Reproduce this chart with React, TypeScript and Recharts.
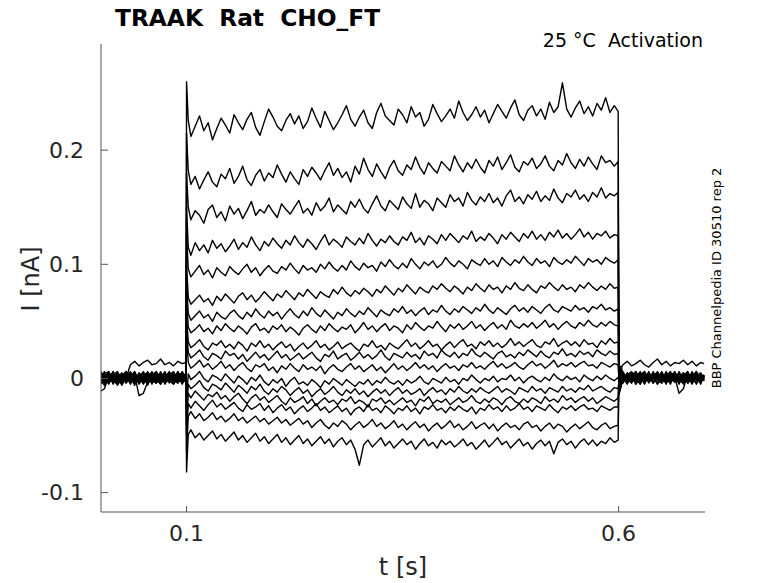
import { LineChart, Line, XAxis, YAxis } from "recharts";

// time grid (s)
const preTimes = [
  0.001, 0.005, 0.01, 0.015, 0.02, 0.025, 0.03, 0.035, 0.04, 0.045, 0.05, 0.055, 0.06, 0.065, 0.07,
  0.075, 0.08, 0.085, 0.09, 0.095, 0.0995,
];
const onsetTime = 0.1;
const stepTimes = [
  0.102, 0.105, 0.11, 0.115, 0.12, 0.125, 0.13, 0.135, 0.14, 0.145, 0.15, 0.155, 0.16, 0.165, 0.17,
  0.175, 0.18, 0.185, 0.19, 0.195, 0.2, 0.205, 0.21, 0.215, 0.22, 0.225, 0.23, 0.235, 0.24, 0.245,
  0.25, 0.255, 0.26, 0.265, 0.27, 0.275, 0.28, 0.285, 0.29, 0.295, 0.3, 0.305, 0.31, 0.315, 0.32,
  0.325, 0.33, 0.335, 0.34, 0.345, 0.35, 0.355, 0.36, 0.365, 0.37, 0.375, 0.38, 0.385, 0.39, 0.395,
  0.4, 0.405, 0.41, 0.415, 0.42, 0.425, 0.43, 0.435, 0.44, 0.445, 0.45, 0.455, 0.46, 0.465, 0.47,
  0.475, 0.48, 0.485, 0.49, 0.495, 0.5, 0.505, 0.51, 0.515, 0.52, 0.525, 0.53, 0.535, 0.54, 0.545,
  0.55, 0.555, 0.56, 0.565, 0.57, 0.575, 0.58, 0.585, 0.59, 0.595, 0.5995,
];
const offsetTime = 0.6005;
const postTimes = [
  0.603, 0.605, 0.61, 0.615, 0.62, 0.625, 0.63, 0.635, 0.64, 0.645, 0.65, 0.655, 0.66, 0.665, 0.67,
  0.675, 0.68, 0.685, 0.69, 0.695, 0.699,
];

// currents in pA (1/1000 nA), one row per sweep, top sweep first
const preTraces = [
  [3, -2, 5, 1, -4, 2, 6, -1, 3, -5, 0, 4, -2, 5, -3, 1, 6, -2, 3, -4, 1],
  [-4, 2, -1, 6, -3, 4, -2, 1, -6, 3, 5, -1, 2, -4, 6, -2, 0, 4, -3, 2, -1],
  [1, 5, -3, 2, -6, 0, 3, 5, -2, 4, -4, 1, 6, -1, 3, -5, 2, -3, 5, 0, 2],
  [-2, -5, 3, -1, 4, -3, 1, -4, 5, -2, 2, -6, 3, 0, -3, 4, -1, 5, -2, 3, -1],
  [2, -3, 1, 4, -2, 3, 0, 12, 15, 11, 14, 16, 12, 13, 17, 12, 14, 11, 15, 13, 14],
  [5, 1, -2, 3, -4, 2, 6, -1, 3, -15, -13, -3, 2, -4, 1, 5, -2, 3, -1, 4, 0],
  [-1, 4, 6, -3, 1, -5, 2, 4, -2, 0, 5, -3, 3, -1, -5, 2, 4, -3, 1, 6, 1],
  [4, -3, 0, 5, -1, 3, -4, 2, 6, -2, 1, 3, -5, 4, 2, -3, 5, 1, -4, 2, -1],
  [-11, -9, 2, -4, 5, -2, 4, -3, 0, 3, -4, 6, -1, 2, -4, 3, -2, -5, 4, -1, 2],
  [0, 6, -4, 1, 3, -6, 0, 4, -3, 5, -1, -3, 2, 5, -2, 0, 4, -1, 6, -3, 0],
  [5, -1, 3, -2, -5, 4, 2, -3, 1, -4, 3, 5, -2, -4, 4, -1, 3, 6, -2, 0, 3],
  [-3, 2, 5, -5, 2, 1, -3, 6, -1, 2, -5, 0, 4, -3, 1, 6, -4, 2, -1, -3, -2],
  [2, -4, 1, 3, 6, -2, 4, -5, 3, -1, 6, -2, -3, 1, 5, -4, -1, 3, 0, 5, 1],
  [-5, 3, -2, 0, -1, 5, -4, 1, -2, 4, -3, 2, 5, -2, -1, 4, -3, 0, 6, -2, 3],
  [6, 0, -5, 4, 2, -4, 3, -1, 5, -3, 0, 4, -1, 3, -5, 1, 5, -2, -4, 3, -1],
  [-1, -6, 4, -3, 5, 1, -2, 3, -4, 2, 4, -5, 1, 3, -2, 5, -3, 4, 2, -5, 2],
  [3, 1, -3, 6, -2, -4, 5, 0, 2, -3, 1, -4, 3, 6, 0, -2, 3, -5, 1, 4, 0],
];

const onsetSpikes = [260, 215, 180, 150, 125, 100, 85, 70, 55, 45, 35, -20, -30, -40, -50, -65, -82];

const stepTraces = [
  [
    226, 212, 221, 230, 217, 224, 209, 219, 228, 222,
    215, 231, 224, 218, 227, 233, 220, 213, 225, 236,
    229, 221, 217, 226, 232, 223, 230, 219, 225, 237,
    228, 220, 234, 226, 218, 224, 231, 239, 227, 221,
    229, 235, 224, 219, 233, 241, 230, 226, 222, 236,
    231, 224, 238, 229, 233, 221, 227, 240, 232, 225,
    230, 236, 228, 243, 233, 226, 231, 238, 229, 235,
    224, 232, 240, 234, 228, 237, 244, 231, 226, 235,
    239, 230, 236, 227, 242, 233, 238, 259, 236, 229,
    237, 243, 232, 238, 230, 241, 235, 246, 233, 239, 234,
  ],
  [
    182, 170, 177, 166, 174, 181, 172, 168, 179, 175,
    184, 171, 177, 186, 174, 169, 178, 183, 173, 180,
    176, 187, 179, 172, 181, 175, 170, 183, 177, 185,
    180, 174, 182, 189, 178, 184, 176, 181, 172, 186,
    179, 193, 183, 177, 188, 181, 175, 185, 191, 182,
    178, 187, 183, 194, 185, 179, 189, 184, 180, 190,
    186, 182, 195, 187, 181, 189, 184, 192, 185, 180,
    191, 186, 194, 183, 189, 196, 185, 181, 190, 187,
    193, 184, 188, 195, 186, 182, 191, 187, 197, 189,
    184, 192, 186, 194, 188, 183, 195, 189, 191, 186, 190,
  ],
  [
    150, 139, 147, 143, 136, 148, 152, 141, 146, 138,
    151, 144, 149, 140, 147, 155, 143, 148, 145, 152,
    146, 141, 153, 148, 144, 150, 156, 145, 149, 143,
    154, 147, 151, 158, 146, 152, 148, 144, 155, 150,
    157, 149, 145, 153, 160, 151, 147, 156, 152, 148,
    159, 153, 149, 162, 150, 156, 153, 147, 158, 154,
    150, 161, 155, 158, 151, 163, 156, 152, 159, 155,
    162, 154, 158, 151, 160, 165, 155, 159, 153, 161,
    157, 164, 155, 160, 156, 166, 158, 154, 162, 159,
    165, 157, 161, 155, 163, 159, 167, 158, 162, 160, 163,
  ],
  [
    115, 108, 119, 112, 117, 110, 121, 114, 118, 111,
    116, 122, 113, 119, 115, 124, 117, 112, 120, 116,
    123, 118, 114, 121, 117, 125, 119, 115, 122, 118,
    113, 120, 126, 117, 122, 119, 115, 124, 120, 117,
    123, 118, 127, 121, 116, 122, 119, 125, 120, 117,
    124, 121, 128, 119, 123, 117, 125, 122, 118, 126,
    121, 127, 123, 119, 125, 122, 129, 120, 124, 121,
    127, 123, 118, 126, 122, 128, 124, 120, 127, 123,
    129, 122, 126, 121, 128, 124, 130, 123, 127, 122,
    126, 131, 124, 128, 122, 127, 125, 129, 123, 126, 125,
  ],
  [
    96, 89, 94, 99, 91, 95, 88, 97, 93, 90,
    98, 94, 91, 96, 100, 93, 97, 90, 95, 99,
    94, 92, 98, 95, 101, 96, 92, 99, 95, 97,
    93, 100, 96, 102, 97, 94, 99, 95, 103, 98,
    95, 101, 97, 99, 94, 102, 98, 104, 99, 96,
    101, 97, 105, 100, 96, 102, 99, 103, 97, 100,
    106, 101, 98, 103, 100, 96, 104, 101, 99, 105,
    100, 103, 98, 106, 102, 99, 104, 101, 107, 102,
    99, 105, 101, 103, 98, 106, 102, 100, 104, 101,
    107, 103, 99, 105, 102, 104, 100, 106, 103, 101, 104,
  ],
  [
    71, 65, 69, 73, 67, 70, 64, 72, 68, 74,
    70, 66, 72, 75, 69, 73, 67, 71, 76, 72,
    68, 74, 71, 77, 73, 69, 75, 72, 78, 74,
    70, 76, 73, 71, 78, 74, 80, 75, 72, 77,
    74, 79, 76, 72, 78, 75, 81, 77, 73, 79,
    76, 82, 78, 74, 80, 77, 75, 81, 78, 83,
    79, 76, 81, 78, 74, 80, 77, 83, 79, 76,
    82, 78, 80, 75, 81, 78, 84, 79, 77, 82,
    78, 75, 81, 79, 84, 80, 77, 82, 78, 80,
    76, 82, 79, 84, 80, 77, 81, 78, 83, 79, 80,
  ],
  [
    57, 51, 55, 59, 53, 56, 50, 58, 54, 52,
    57, 60, 55, 52, 58, 54, 61, 56, 53, 59,
    55, 58, 52, 57, 61, 56, 53, 59, 55, 62,
    57, 54, 60, 56, 52, 58, 55, 61, 57, 54,
    59, 56, 62, 58, 54, 60, 57, 55, 61, 58,
    63, 57, 60, 55, 59, 62, 56, 60, 58, 64,
    59, 56, 61, 58, 63, 60, 57, 62, 59, 65,
    60, 57, 62, 59, 56, 61, 64, 59, 62, 58,
    63, 60, 57, 62, 65, 60, 58, 63, 61, 59,
    64, 60, 62, 58, 63, 61, 65, 60, 62, 59, 61,
  ],
  [
    45, 40, 43, 47, 41, 44, 39, 46, 42, 48,
    44, 41, 46, 43, 39, 45, 48, 42, 44, 40,
    46, 43, 47, 41, 45, 42, 38, 44, 47, 43,
    40, 46, 42, 48, 44, 41, 45, 43, 47, 40,
    44, 49, 43, 46, 41, 45, 48, 42, 46, 44,
    40, 47, 43, 49, 45, 42, 46, 44, 50, 45,
    41, 47, 44, 48, 43, 46, 50, 44, 47, 42,
    46, 49, 44, 47, 43, 51, 46, 44, 48, 45,
    49, 44, 47, 51, 45, 48, 43, 47, 50, 46,
    44, 49, 46, 51, 47, 45, 49, 46, 50, 47, 46,
  ],
  [
    32, 27, 30, 34, 28, 25, 31, 29, 33, 27,
    30, 26, 32, 29, 24, 31, 28, 33, 27, 30,
    25, 29, 32, 27, 30, 24, 28, 31, 26, 29,
    33, 27, 30, 25, 28, 32, 26, 29, 31, 27,
    24, 30, 28, 33, 27, 29, 25, 31, 28, 26,
    30, 34, 28, 31, 26, 29, 33, 28, 30, 25,
    29, 32, 27, 31, 34, 28, 30, 26, 32, 29,
    33, 28, 31, 27, 30, 35, 29, 32, 28, 31,
    34, 29, 27, 32, 30, 35, 28, 31, 33, 29,
    32, 28, 34, 30, 31, 27, 33, 30, 35, 31, 32,
  ],
  [
    23, 18, 21, 25, 19, 16, 22, 20, 17, 24,
    20, 22, 17, 21, 15, 19, 23, 18, 21, 16,
    20, 24, 18, 21, 16, 19, 22, 17, 20, 23,
    18, 15, 21, 19, 24, 17, 20, 22, 16, 19,
    23, 18, 21, 17, 20, 25, 19, 16, 22, 20,
    18, 23, 19, 21, 17, 24, 20, 22, 18, 25,
    21, 19, 23, 18, 22, 20, 26, 21, 19, 23,
    20, 17, 22, 24, 19, 21, 18, 23, 20, 25,
    22, 19, 24, 20, 18, 23, 21, 26, 20, 22,
    19, 24, 21, 23, 19, 25, 22, 20, 24, 21, 22,
  ],
  [
    14, 9, 12, 16, 10, 13, 8, 11, 15, 9,
    12, 7, 11, 14, 9, 6, 12, 10, 13, 7,
    10, 5, 11, 8, 13, 9, 6, 12, 8, 10,
    7, 11, 4, 9, 12, 8, 6, 10, 13, 8,
    11, 6, 9, 12, 7, 10, 5, 9, 13, 8,
    11, 7, 10, 14, 9, 12, 8, 11, 6, 10,
    13, 9, 11, 7, 12, 10, 14, 9, 11, 8,
    12, 15, 10, 13, 9, 11, 14, 10, 8, 12,
    15, 11, 13, 9, 12, 16, 10, 13, 11, 14,
    10, 13, 15, 11, 12, 9, 14, 12, 10, 13, 12,
  ],
  [
    4, -1, 2, 6, 0, -3, 3, 1, -2, 4,
    0, -4, 2, -1, -5, 1, -2, 3, -3, -6,
    -1, -4, 0, -7, -2, 1, -5, -3, -6, -1,
    -4, -8, -2, -5, 0, -3, -6, -1, -4, -7,
    -3, -5, -1, -6, -2, -4, 1, -3, -5, -2,
    -6, -1, -4, -2, 2, -3, -5, 0, -2, -4,
    1, -3, -1, -5, 0, -2, 3, -1, -4, 0,
    -2, 2, -3, 0, -1, 3, -2, 1, -4, 0,
    2, -1, -3, 1, -2, 4, 0, -2, 2, -1,
    1, -3, 3, 0, -2, 2, -1, 3, 0, -2, 1,
  ],
  [
    -5, -9, -6, -2, -8, -11, -5, -7, -10, -4,
    -8, -12, -6, -9, -13, -7, -10, -5, -11, -14,
    -9, -12, -7, -10, -15, -11, -8, -13, -10, -16,
    -12, -9, -14, -11, -7, -12, -15, -10, -13, -9,
    -14, -11, -16, -12, -9, -13, -10, -15, -11, -8,
    -13, -10, -14, -12, -9, -15, -11, -8, -12, -10,
    -14, -9, -12, -7, -11, -13, -9, -12, -8, -11,
    -13, -10, -7, -12, -9, -11, -14, -8, -10, -12,
    -7, -11, -9, -13, -8, -10, -12, -7, -11, -9,
    -12, -8, -10, -6, -11, -9, -7, -10, -12, -8, -9,
  ],
  [
    -13, -17, -11, -15, -19, -14, -16, -12, -18, -15,
    -20, -16, -13, -18, -22, -17, -14, -19, -16, -21,
    -18, -15, -20, -23, -17, -21, -19, -16, -22, -18,
    -24, -20, -17, -21, -19, -23, -18, -20, -16, -22,
    -19, -21, -25, -18, -20, -17, -22, -19, -23, -20,
    -17, -21, -19, -24, -18, -20, -16, -22, -19, -21,
    -18, -23, -20, -17, -21, -19, -15, -20, -22, -18,
    -21, -17, -19, -23, -18, -16, -20, -22, -18, -21,
    -17, -19, -22, -16, -20, -18, -21, -15, -19, -17,
    -21, -18, -16, -20, -17, -22, -19, -16, -18, -20, -17,
  ],
  [
    -22, -26, -20, -24, -28, -23, -19, -25, -22, -27,
    -24, -21, -26, -29, -23, -27, -25, -22, -28, -24,
    -30, -26, -23, -28, -25, -31, -27, -24, -29, -26,
    -22, -28, -25, -30, -27, -24, -29, -26, -32, -27,
    -25, -29, -23, -28, -26, -30, -24, -27, -31, -26,
    -28, -24, -29, -26, -31, -25, -27, -23, -28, -26,
    -30, -25, -28, -24, -27, -29, -25, -31, -26, -28,
    -23, -27, -25, -29, -24, -28, -26, -22, -27, -25,
    -29, -24, -26, -28, -23, -27, -30, -25, -27, -24,
    -28, -25, -23, -27, -26, -29, -24, -26, -28, -25, -25,
  ],
  [
    -33, -29, -35, -31, -37, -34, -30, -36, -33, -38,
    -35, -31, -37, -34, -39, -36, -33, -38, -35, -40,
    -37, -34, -39, -36, -41, -38, -35, -40, -37, -43,
    -39, -36, -41, -44, -39, -42, -37, -40, -45, -41,
    -38, -43, -40, -36, -42, -39, -44, -41, -37, -43,
    -40, -45, -41, -38, -43, -40, -46, -42, -39, -44,
    -41, -37, -43, -40, -45, -42, -38, -44, -41, -39,
    -44, -40, -46, -42, -39, -43, -41, -45, -40, -38,
    -43, -41, -46, -42, -39, -44, -40, -42, -47, -43,
    -40, -44, -41, -38, -43, -45, -41, -39, -44, -42, -41,
  ],
  [
    -49, -45, -52, -48, -54, -50, -46, -53, -49, -55,
    -51, -47, -54, -50, -56, -52, -48, -55, -51, -57,
    -53, -49, -56, -52, -58, -54, -50, -57, -53, -59,
    -55, -51, -57, -53, -60, -55, -52, -58, -54, -62,
    -76, -58, -54, -60, -56, -52, -59, -55, -61, -57,
    -53, -58, -55, -62, -57, -53, -59, -56, -61, -54,
    -58, -55, -60, -57, -53, -59, -56, -62, -58, -54,
    -60, -56, -52, -58, -55, -61, -57, -53, -59, -56,
    -62, -57, -54, -59, -55, -66, -56, -53, -58, -55,
    -61, -56, -53, -58, -54, -59, -55, -57, -52, -56, -54,
  ],
];

const offsetSpikes = [-14, -13, -12, -11, -10, -9, -8, -7, -6, -5, -4, -3, -2, 3, 5, 7, 9];

const postTraces = [
  [-7, 3, -2, 5, -4, 1, 6, -3, 2, -5, 4, 0, -2, 5, -1, 3, -4, 2, 6, -2, 1],
  [-6, -3, 4, -1, 2, -5, 3, 0, 5, -2, -4, 3, 1, -3, 6, -1, 2, -5, 3, 0, -2],
  [-5, 4, 1, -4, 6, -2, 0, 4, -3, 2, 5, -1, -4, 3, -2, 5, 0, -3, 4, -1, 3],
  [-4, 1, -5, 3, -1, 4, -3, 5, -2, 0, 3, -5, 4, 1, -3, 2, 6, -2, 0, 3, -1],
  [9, 12, 15, 11, 13, 16, 12, 10, 14, 17, 12, 15, 11, 14, 13, 16, 12, 15, 11, 14, 13],
  [-3, 5, -2, 1, -4, 3, 6, -1, 2, -5, 1, 4, -2, 5, -3, 0, 3, -4, 2, 5, 0],
  [-2, -4, 3, 6, -1, 2, -5, 4, 0, 3, -2, 5, -3, 1, -13, -9, 4, -2, 6, -3, 1],
  [-1, 2, -3, 4, 1, -5, 3, -2, 6, -1, 4, -4, 2, -1, 5, -3, 1, 4, -5, 2, 0],
  [1, 6, 0, -4, 3, 5, -2, 1, -4, 3, -1, 2, 6, -3, 0, 4, -2, 5, -1, -3, 2],
  [2, -1, 4, 2, -5, 0, 4, -3, 3, 5, -4, 1, -2, 4, 2, -5, 3, -1, 4, 1, -2],
  [3, 0, -2, 5, -3, 4, -1, 6, -4, 1, 2, -3, 5, 0, -2, 3, -4, 1, 5, -3, 2],
  [4, -3, 5, -1, 3, -4, 2, -2, 1, 4, -3, 6, -1, 2, -5, 4, 1, -2, 3, 0, -1],
  [5, 2, -4, 3, 6, -2, 1, 5, -3, 2, 0, -4, 3, 5, -1, 2, -3, 6, -2, 1, 3],
  [6, -2, 3, -3, 1, 5, -4, 2, 4, -1, 6, -2, 0, -3, 4, 1, 5, -1, -4, 3, 0],
  [8, 1, -1, 4, -5, 2, 3, -4, 5, -2, 1, 3, -5, 4, 2, -2, 0, 3, 5, -3, 2],
  [9, -4, 2, -2, 4, -1, 5, -3, 0, 6, -2, -1, 4, -3, 1, 5, -4, 2, -1, 4, -2],
  [11, 3, -3, 1, -2, 6, -1, 3, -4, 2, 4, -3, 1, 6, -2, -4, 3, 0, 2, -5, 3],
];

const xTicks = [0.1, 0.6];
const yTicks = [-0.1, 0, 0.1, 0.2];

const sweepKeys = stepTraces.map((_, i) => `s${i}`);

function buildRows() {
  const rows: Record<string, number>[] = [];
  const push = (t: number, pick: (i: number) => number) => {
    const row: Record<string, number> = { t };
    sweepKeys.forEach((k, i) => {
      row[k] = pick(i) / 1000;
    });
    rows.push(row);
  };
  preTimes.forEach((t, j) => push(t, (i) => preTraces[i][j]));
  push(onsetTime, (i) => onsetSpikes[i]);
  stepTimes.forEach((t, j) => push(t, (i) => stepTraces[i][j]));
  push(offsetTime, (i) => offsetSpikes[i]);
  postTimes.forEach((t, j) => push(t, (i) => postTraces[i][j]));
  return rows;
}

const rows = buildRows();

const FONT = "'DejaVu Sans', sans-serif";
const AXIS = "#555555";
const TEXT = "#262626";

const fmtY = (v: number) => (v === 0 ? "0" : String(Math.round(v * 10) / 10));

export default function App() {
  return (
    <div style={{ position: "absolute", left: 0, top: 0, width: 778, height: 583, background: "#fff" }}>
      <LineChart
        width={778}
        height={583}
        data={rows}
        margin={{ top: 44, right: 73, left: 0, bottom: 0 }}
        style={{ position: "absolute", left: 0, top: 0 }}
      >
        <XAxis
          dataKey="t"
          type="number"
          domain={[0.001, 0.7]}
          ticks={xTicks}
          allowDataOverflow
          height={71}
          stroke={AXIS}
          tickSize={-6}
          tickMargin={19}
          tick={{ fill: TEXT, fontSize: 22, fontFamily: FONT }}
        />
        <YAxis
          type="number"
          domain={[-0.117, 0.293]}
          ticks={yTicks}
          allowDataOverflow
          width={101}
          stroke={AXIS}
          tickSize={-7}
          tickMargin={24}
          tickFormatter={fmtY}
          tick={{ fill: TEXT, fontSize: 22, fontFamily: FONT }}
        />
        {sweepKeys.map((k) => (
          <Line
            key={k}
            dataKey={k}
            type="linear"
            stroke="#000"
            strokeWidth={1.4}
            strokeLinejoin="round"
            dot={false}
            activeDot={false}
            isAnimationActive={false}
          />
        ))}
      </LineChart>
      <svg
        width={778}
        height={583}
        style={{ position: "absolute", left: 0, top: 0, pointerEvents: "none" }}
        fontFamily={FONT}
      >
        <text x={115} y={26} fontSize={23.3} fontWeight="bold" fill="#000">
          TRAAK{"\u00a0\u00a0"}Rat{"\u00a0\u00a0"}CHO_FT
        </text>
        <text x={703} y={47} fontSize={19} textAnchor="end" fill="#000">
          25 °C{"\u00a0\u00a0"}Activation
        </text>
        <text
          x={0}
          y={0}
          fontSize={13}
          textAnchor="middle"
          fill="#000"
          transform="translate(721 278) rotate(-90)"
        >
          BBP Channelpedia ID 30510 rep 2
        </text>
        <text
          x={0}
          y={0}
          fontSize={24}
          textAnchor="middle"
          fill={TEXT}
          transform="translate(39 279) rotate(-90)"
        >
          I [nA]
        </text>
        <text x={403} y={575} fontSize={24} textAnchor="middle" fill={TEXT}>
          t [s]
        </text>
      </svg>
    </div>
  );
}
